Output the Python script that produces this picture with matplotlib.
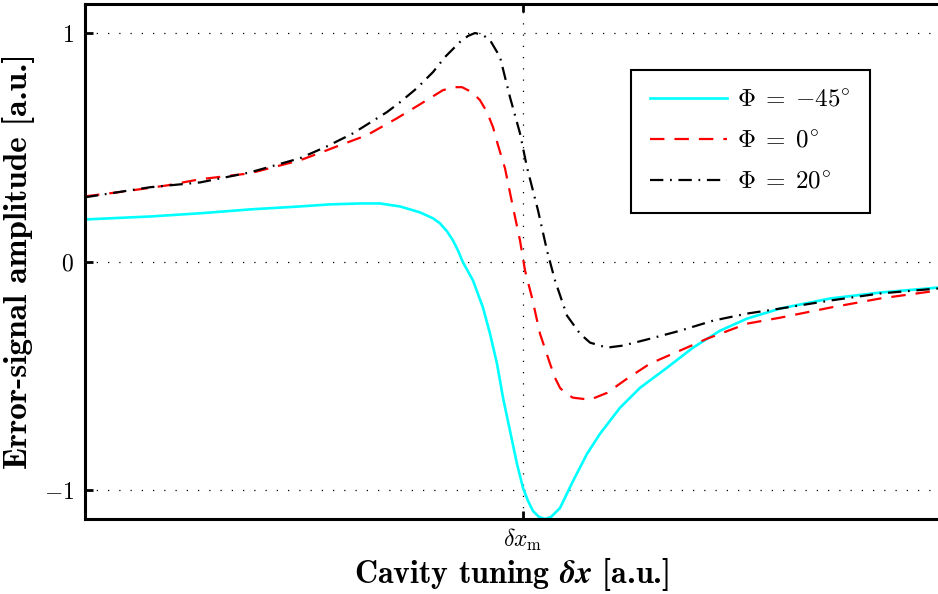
import numpy as np
import matplotlib
matplotlib.use("Agg")
import matplotlib.pyplot as plt

# curves (x in a.u., 0 = delta x_m; y in a.u.)
x_m45 = [-4.38, -3.73, -3.23, -2.73, -2.23, -1.93, -1.63, -1.43, -1.23, -1.03, -0.90,
         -0.83, -0.76, -0.70, -0.65, -0.60, -0.50, -0.40, -0.33, -0.26, -0.20, -0.13,
         -0.06, 0.0, 0.05, 0.10, 0.16, 0.22, 0.28, 0.37, 0.50, 0.64, 0.77, 0.97,
         1.17, 1.44, 1.70, 1.97, 2.24, 2.57, 3.07, 3.57, 4.15]
y_m45 = [0.184, 0.197, 0.211, 0.228, 0.241, 0.250, 0.254, 0.254, 0.241, 0.215, 0.189,
         0.167, 0.132, 0.092, 0.048, -0.004, -0.083, -0.202, -0.316, -0.447, -0.596, -0.741,
         -0.886, -0.991, -1.048, -1.092, -1.118, -1.127, -1.118, -1.079, -0.961, -0.842, -0.754, -0.640,
         -0.553, -0.465, -0.377, -0.303, -0.250, -0.206, -0.162, -0.136, -0.114]

x_0 = [-4.38, -3.98, -3.56, -3.23, -2.73, -2.23, -1.96, -1.83, -1.56, -1.26, -1.06,
       -0.93, -0.80, -0.68, -0.61, -0.51, -0.43, -0.36, -0.30, -0.25, -0.18, -0.10,
       -0.03, 0.02, 0.09, 0.17, 0.27, 0.32, 0.37, 0.43, 0.50, 0.67, 0.84, 1.04,
       1.27, 1.57, 1.84, 2.24, 2.57, 3.07, 3.57, 4.15]
y_0 = [0.285, 0.307, 0.333, 0.360, 0.386, 0.443, 0.487, 0.509, 0.553, 0.627, 0.680,
       0.715, 0.750, 0.763, 0.763, 0.741, 0.706, 0.654, 0.588, 0.509, 0.408, 0.237,
       0.092, -0.039, -0.158, -0.316, -0.447, -0.509, -0.553, -0.579, -0.596, -0.605, -0.575, -0.513,
       -0.447, -0.390, -0.338, -0.272, -0.246, -0.202, -0.162, -0.127]

x_20 = [-4.38, -3.73, -3.23, -2.73, -2.23, -1.96, -1.70, -1.36, -1.23, -1.06, -0.90,
        -0.78, -0.63, -0.55, -0.48, -0.40, -0.33, -0.23, -0.13, -0.03, 0.04, 0.15,
        0.24, 0.32, 0.44, 0.57, 0.67, 0.84, 1.00, 1.27, 1.57, 1.90, 2.24,
        2.57, 3.07, 3.57, 4.15]
y_20 = [0.281, 0.325, 0.346, 0.390, 0.452, 0.504, 0.561, 0.654, 0.697, 0.759, 0.829,
        0.895, 0.961, 0.987, 1.000, 0.991, 0.969, 0.895, 0.719, 0.561, 0.412, 0.224,
        0.048, -0.083, -0.237, -0.316, -0.355, -0.377, -0.368, -0.338, -0.303, -0.259, -0.228,
        -0.206, -0.171, -0.140, -0.118]

labels = [r"$\Phi\;=\;{-}45^{\circ}$", r"$\Phi\;=\;0^{\circ}$", r"$\Phi\;=\;20^{\circ}$"]

plt.rcParams["font.family"] = "serif"
plt.rcParams["font.serif"] = ["cmr10", "DejaVu Serif"]
plt.rcParams["mathtext.fontset"] = "cm"
plt.rcParams["axes.unicode_minus"] = False

fig = plt.figure(figsize=(9.38, 5.94), dpi=100)
ax = fig.add_axes([85 / 938, 1 - 519 / 594, 1 - 85 / 938, (519 - 4) / 594])

ax.plot(x_m45, y_m45, color="#00ffff", lw=1.9, label=labels[0], solid_joinstyle="round")
ax.plot(x_0, y_0, color="#ff0000", lw=1.6, dashes=(6.5, 4.5), label=labels[1])
ax.plot(x_20, y_20, color="black", lw=1.6, dashes=(6, 3, 0.8, 3), label=labels[2])

# MATLAB style dotted grid
for yv in (-1, 0, 1):
    ax.axhline(yv, color="black", lw=0.9, ls=(0, (1, 8)), zorder=0)
ax.axvline(0, color="black", lw=0.9, ls=(0, (1, 8)), zorder=0)

ax.set_xlim(-4.38, 4.15)
ax.set_ylim(-1.127, 1.127)
ax.set_xticks([0])
ax.set_xticklabels([r"$\delta x_{\rm m}$"], fontsize=17)
ax.set_yticks([-1, 0, 1])
ax.set_yticklabels([r"$-1$", r"$0$", r"$1$"], fontsize=17)
ax.tick_params(direction="in", length=6, width=2, top=True, right=False, pad=8)
ax.tick_params(axis="x", pad=6)

for side in ("left", "bottom", "top"):
    ax.spines[side].set_linewidth(2.2)
ax.spines["right"].set_visible(False)

ax.set_ylabel("Error-signal amplitude [a.u.]", fontsize=24, fontweight="bold",
              family=["cmb10", "DejaVu Serif"], labelpad=6)
ax.set_xlabel(r"Cavity tuning $\boldsymbol{\delta x}$ [a.u.]", fontsize=23,
              fontweight="bold", family=["cmb10", "DejaVu Serif"], labelpad=1)

leg = ax.legend(loc="upper left", bbox_to_anchor=(546 / 853, 1 - 66 / 515),
                borderaxespad=0, fontsize=18, frameon=True, fancybox=False, framealpha=1,
                edgecolor="black", handlelength=3.1, borderpad=0.75, labelspacing=0.75,
                handletextpad=0.4)
leg.get_frame().set_linewidth(1.5)

fig.savefig("out.png", dpi=100)
